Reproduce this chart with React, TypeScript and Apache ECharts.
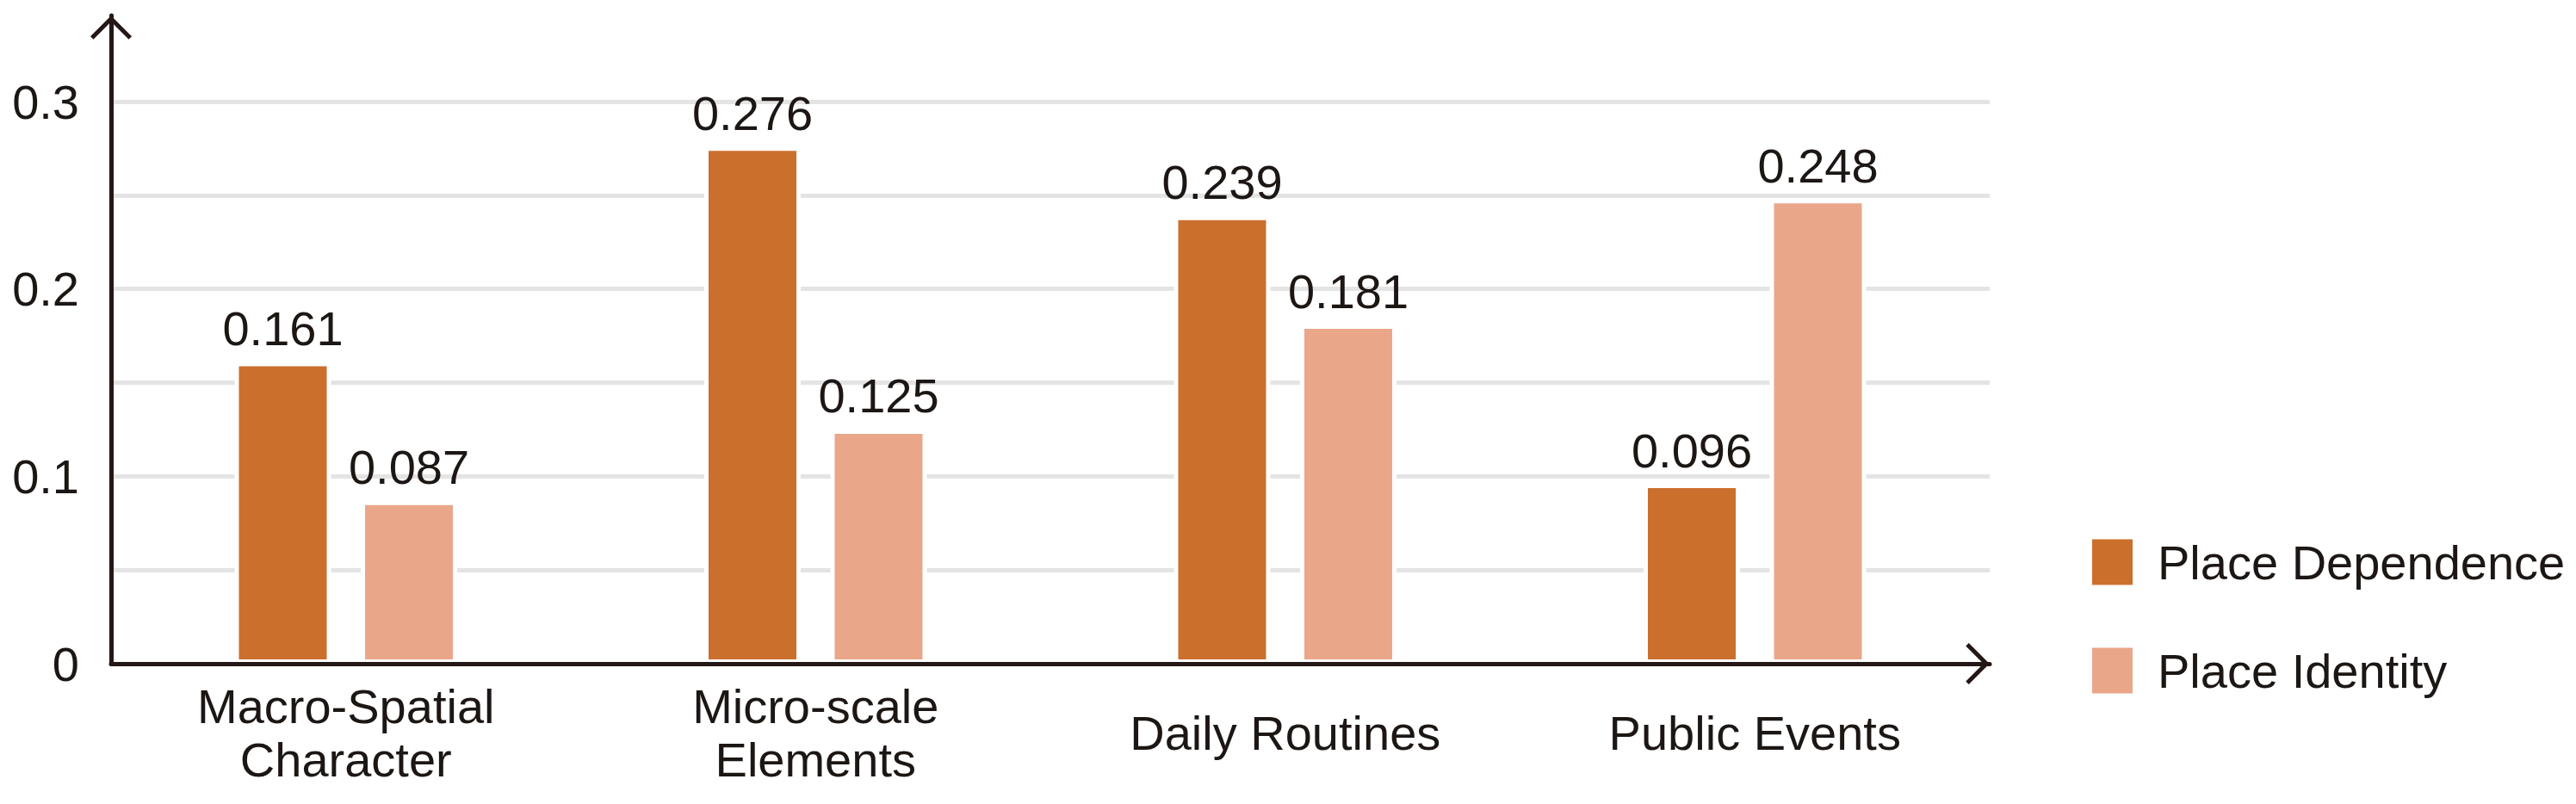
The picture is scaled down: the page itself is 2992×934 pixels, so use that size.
import React, { useEffect, useRef } from "react";
import * as echarts from "echarts";

const categories = ["Macro-Spatial\nCharacter", "Micro-scale\nElements", "Daily Routines", "Public Events"];
const seriesNames = ["Place Dependence", "Place Identity"];
const placeDependence = [0.161, 0.276, 0.239, 0.096];
const placeIdentity = [0.087, 0.125, 0.181, 0.248];
const yMin = 0;
const yMax = 0.346; // axis runs past the last gridline (0.3) up to the arrow tip
const yInterval = 0.05;
const yLabelStep = 0.1;

const colors = ["#CB6F2D", "#EAA689"];
const axisColor = "#231815";
const textColor = "#1c1714";

const ARROW = "path://M24,0 L48,24 L44.5,27.5 L24,7 L3.5,27.5 L0,24 Z";

function pickFont() {
  try {
    const c = document.createElement("canvas").getContext("2d");
    if (c) {
      const s = "Place Dependence 0.276";
      c.font = "66px monospace";
      const base = c.measureText(s).width;
      c.font = '66px "Liberation Sans Narrow", monospace';
      const n = c.measureText(s).width;
      if (Math.abs(n - base) > 1) return { family: '"Liberation Sans Narrow", "Arial Narrow", sans-serif', size: 66 };
    }
  } catch (e) {
    /* ignore */
  }
  return { family: '"Liberation Sans", Arial, sans-serif', size: 56 };
}

export default function App() {
  const ref = useRef<HTMLDivElement>(null);

  useEffect(() => {
    if (!ref.current) return;
    const chart = echarts.init(ref.current, undefined, { renderer: "svg" });
    const font = pickFont();
    const fs = font.size;

    const labelOpt = {
      show: true,
      position: "top",
      distance: 6,
      fontSize: fs,
      lineHeight: 66,
      fontFamily: font.family,
      color: textColor,
      formatter: (p: any) => Number(p.value).toFixed(3),
    };

    const option: any = {
      animation: false,
      backgroundColor: "#ffffff",
      textStyle: { fontFamily: font.family },
      grid: {
        left: 129,
        right: 681,
        top: 18,
        bottom: 163,
        containLabel: false,
        outerBoundsMode: "none",
      },
      legend: {
        orient: "vertical",
        left: 2425,
        top: 620,
        itemWidth: 47,
        itemHeight: 53,
        itemGap: 70,
        icon: "rect",
        selectedMode: false,
        itemStyle: { borderWidth: 0 },
        textStyle: {
          fontSize: fs,
          fontFamily: font.family,
          color: textColor,
          lineHeight: 53,
          padding: [0, 0, 0, 24],
        },
        data: seriesNames,
      },
      xAxis: {
        type: "category",
        data: categories,
        z: 5,
        axisLine: {
          show: true,
          symbol: ["none", ARROW],
          symbolSize: [48, 28],
          symbolOffset: [0, -14],
          lineStyle: { color: axisColor, width: 5 },
        },
        axisTick: { show: false },
        axisLabel: {
          fontSize: fs,
          fontFamily: font.family,
          color: textColor,
          lineHeight: 62,
          verticalAlign: "middle",
          margin: 80,
          interval: 0,
        },
        splitLine: { show: false },
      },
      yAxis: {
        type: "value",
        min: yMin,
        max: yMax,
        interval: yInterval,
        axisLine: {
          show: true,
          symbol: ["none", ARROW],
          symbolSize: [48, 28],
          symbolOffset: [0, -14],
          lineStyle: { color: axisColor, width: 5 },
        },
        axisTick: { show: false },
        axisLabel: {
          fontSize: fs,
          fontFamily: font.family,
          color: textColor,
          margin: 37,
          showMaxLabel: false,
          formatter: (v: number) => {
            const k = v / yInterval;
            if (Math.abs(k - Math.round(k)) > 1e-6) return "";
            const step = Math.round(yLabelStep / yInterval);
            return Math.round(k) % step === 0 ? String(Number(v.toFixed(2))) : "";
          },
        },
        splitLine: { show: true, showMaxLine: false, lineStyle: { color: "#e4e4e4", width: 5 } },
      },
      series: [
        {
          name: seriesNames[0],
          type: "bar",
          data: placeDependence,
          barWidth: 112,
          barGap: "30.8%",
          itemStyle: { color: colors[0], borderColor: "#ffffff", borderWidth: 5 },
          label: labelOpt,
        },
        {
          name: seriesNames[1],
          type: "bar",
          data: placeIdentity,
          barWidth: 112,
          barGap: "30.8%",
          itemStyle: { color: colors[1], borderColor: "#ffffff", borderWidth: 5 },
          label: labelOpt,
        },
      ],
    };

    chart.setOption(option);
    return () => chart.dispose();
  }, []);

  return (
    <div
      ref={ref}
      style={{ position: "fixed", left: 0, top: 0, width: 2992, height: 934, background: "#fff" }}
    />
  );
}
